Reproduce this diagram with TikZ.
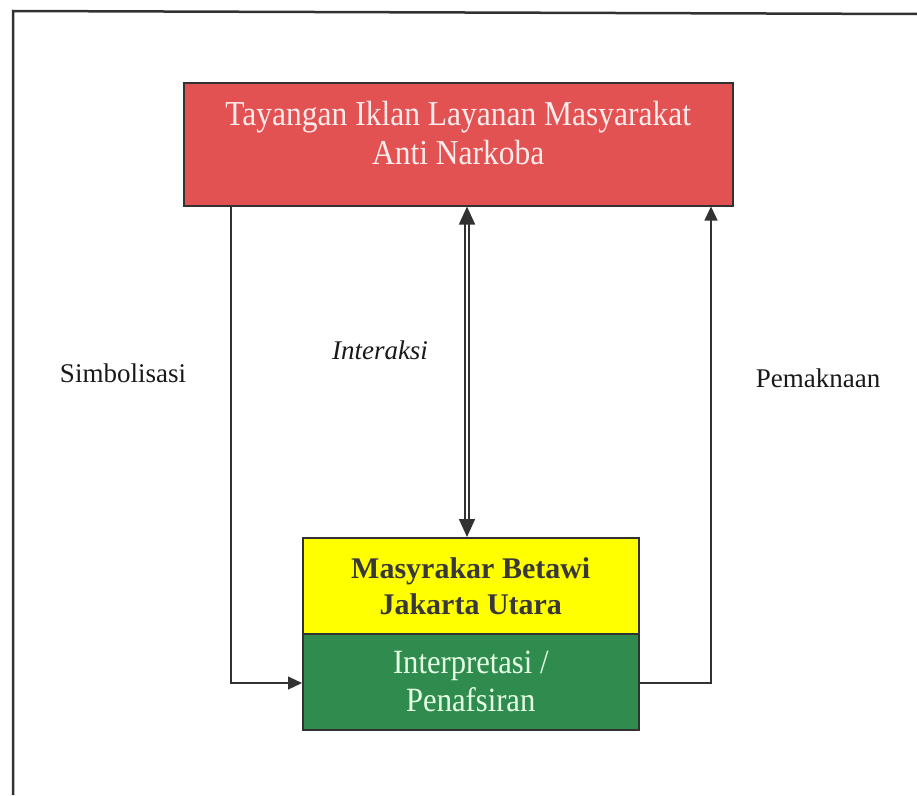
\documentclass[tikz,border=0pt]{standalone}
\usepackage{fontspec}
\setmainfont{Liberation Serif}
\usetikzlibrary{arrows.meta}
\definecolor{boxred}{RGB}{226,82,82}
\definecolor{boxyel}{RGB}{255,255,0}
\definecolor{boxgreen}{RGB}{48,140,78}
\definecolor{linegray}{RGB}{50,50,50}
\begin{document}
\begin{tikzpicture}[x=1pt,y=-1pt,
  boxstyle/.style={draw=linegray,line width=1.5pt,inner sep=0pt,align=center},
  conn/.style={draw=linegray,line width=1.1pt},
  tip/.style={-{Triangle[length=14pt,width=13pt]}},
  lbl/.style={text=black!90,font=\fontsize{27}{30}\selectfont}
]
\useasboundingbox (0,0) rectangle (917,795);
% outer frame
\draw[linegray,line width=2.5pt] (13,795) -- (13,11) -- (917,14);
% boxes
\node[boxstyle,fill=boxred,minimum width=549pt,minimum height=123pt,anchor=north west] (top) at (183,82) {};
\node[align=center,inner sep=0pt,text=white!92!red,font=\fontsize{35}{39}\selectfont]
  (toptext) at ([yshift=11pt]top.center)
  {\scalebox{0.9}[1]{Tayangan Iklan Layanan Masyarakat}\\\scalebox{0.9}[1]{Anti Narkoba}};
\node[boxstyle,fill=boxyel,minimum width=336pt,minimum height=96pt,text=black!78,
  font=\bfseries\fontsize{30}{36}\selectfont,anchor=north west] (yel) at (302,537)
  {Masyrakar Betawi\\Jakarta Utara};
\node[boxstyle,fill=boxgreen,minimum width=336pt,minimum height=96pt,text=white!90!green,
  font=\fontsize{34}{38}\selectfont,anchor=north west] (grn) at (302,633)
  {\scalebox{0.9}[1]{Interpretasi /}\\\scalebox{0.9}[1]{Penafsiran}};
% connectors
\coordinate (lc) at (231,683);
\coordinate (rc) at (711,683);
\draw[conn,tip] (top.south -| lc) -- (lc) -- (grn.west |- lc);
\draw[conn,tip] (grn.east |- rc) -- (rc) -- (top.south -| rc);
\coordinate (mx) at (467,0);
\draw[linegray,double=white,double distance=2.5pt,line width=1.6pt,
  {Triangle[length=18pt,width=16pt]}-{Triangle[length=18pt,width=16pt]}]
  (top.south -| mx) -- (yel.north -| mx);
% labels
\node[lbl] (s) at (123,373) {Simbolisasi};
\node[lbl,font=\itshape\fontsize{27}{30}\selectfont] (i) at (380,350) {Interaksi};
\node[lbl] (p) at (818,378) {Pemaknaan};
\end{tikzpicture}
\end{document}
